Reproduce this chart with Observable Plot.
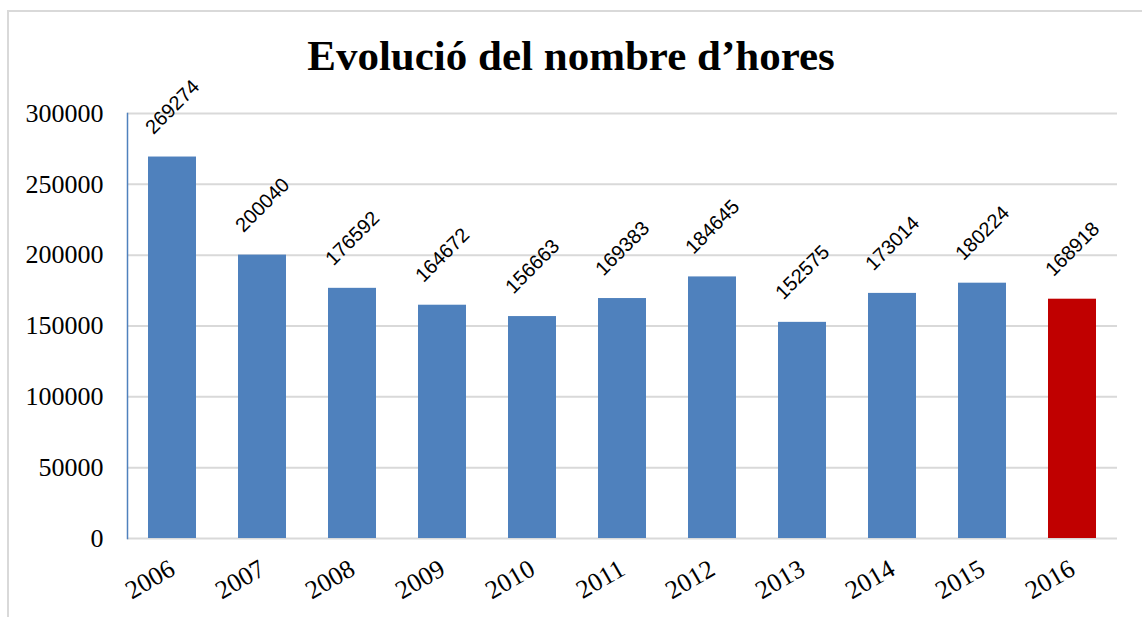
<!DOCTYPE html>
<html>
<head>
<meta charset="utf-8">
<script src="https://cdn.jsdelivr.net/npm/d3@7"></script>
<script src="https://cdn.jsdelivr.net/npm/@observablehq/plot@0.6"></script>
<style>
  html, body { margin: 0; padding: 0; background: #fff; }
  #wrap { position: relative; width: 1142px; height: 617px; overflow: hidden; }
  #frame { position: absolute; left: 7px; top: 10px; width: 1200px; height: 700px;
           border-left: 2px solid #D9D9D9; border-top: 2px solid #D9D9D9; box-sizing: border-box; }
  #title { position: absolute; left: 0; top: 0; width: 1142px; height: 90px; text-align: center;
           font-family: "Liberation Serif", "Times New Roman", serif; font-weight: bold; font-size: 43px;
           line-height: 43px; padding-top: 34px; box-sizing: border-box; color: #000; }
  #chart { position: absolute; left: 0; top: 90px; }
</style>
</head>
<body>
<div id="wrap">
  <div id="frame"></div>
  <div id="title">Evolució del nombre d’hores</div>
  <div id="chart"></div>
</div>
<script>
const years = ["2006","2007","2008","2009","2010","2011","2012","2013","2014","2015","2016"];
const hours = [269274, 200040, 176592, 164672, 156663, 169383, 184645, 152575, 173014, 180224, 168918];
const highlightYear = "2016";
const yTicks = [0, 50000, 100000, 150000, 200000, 250000, 300000];

const data = years.map((y, i) => ({year: y, value: hours[i]}));

const chart = Plot.plot({
  width: 1142,
  height: 527,
  marginTop: 23,
  marginBottom: 79,
  marginLeft: 127,
  marginRight: 25,
  style: {background: "transparent", overflow: "visible", fontFamily: "'Liberation Serif', 'Times New Roman', serif", fontSize: "26px", color: "#000"},
  x: {domain: years, paddingInner: 0.467, paddingOuter: 0.2333, label: null},
  y: {domain: [0, 300000], label: null},
  marks: [
    Plot.ruleY(yTicks, {stroke: "#D9D9D9", strokeWidth: 2}),
    Plot.barY(data, {x: "year", y: "value", fill: d => d.year === highlightYear ? "#C00000" : "#4F81BD"}),
    Plot.frame({anchor: "left", stroke: "#4F81BD", strokeWidth: 1.5}),
    Plot.axisY(yTicks, {tickSize: 0, tickPadding: 24, tickFormat: d => String(d),
      fontFamily: "'Liberation Serif', serif", fontSize: 26, fill: "#000", label: null}),
    Plot.axisX({tickSize: 0, tickPadding: 28, tickRotate: -30,
      fontFamily: "'Liberation Serif', serif", fontSize: 26, fill: "#000", label: null}),
    Plot.text(data, {x: "year", y: "value", text: d => String(d.value), rotate: -45,
      textAnchor: "middle", dy: -50, fontFamily: "'Liberation Sans', sans-serif", fontSize: 20, fill: "#000"})
  ]
});
document.getElementById("chart").appendChild(chart);
</script>
</body>
</html>
